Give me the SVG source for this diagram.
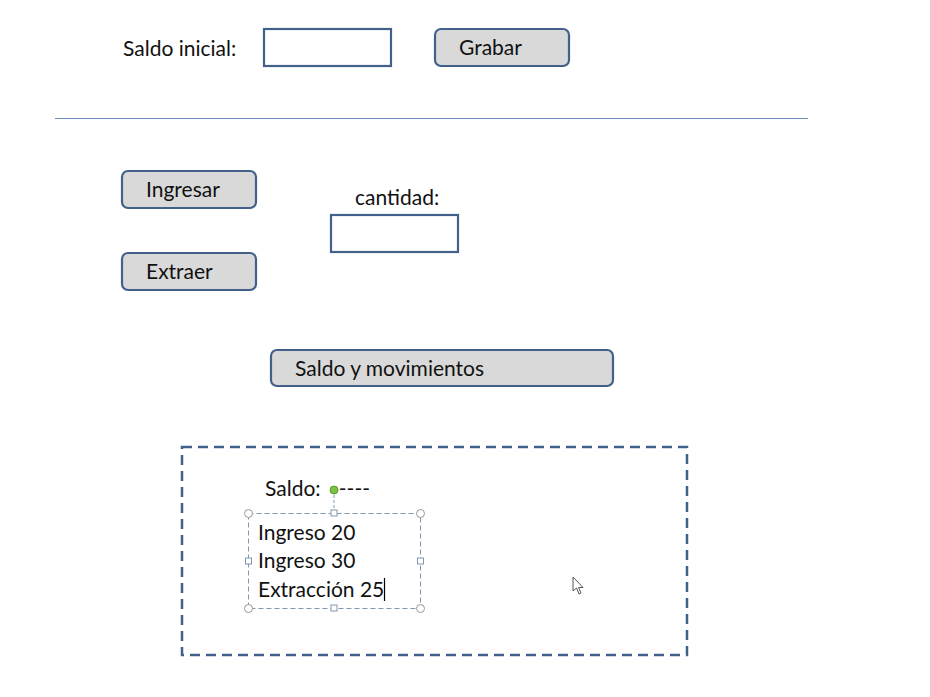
<svg xmlns="http://www.w3.org/2000/svg" width="930" height="697" viewBox="0 0 930 697">
<style>
text{font-family:"Lato","Open Sans",sans-serif;font-size:21px;fill:#111}
.btn{fill:#d9d9d9;stroke:#41618a;stroke-width:2.2}
.inp{fill:#fff;stroke:#41618a;stroke-width:2.2}
.h{fill:#fff;stroke:#999;stroke-width:1}
.hs{fill:#fff;stroke:#7f97b2;stroke-width:1}
</style>
<rect width="930" height="697" fill="#fff"/>
<g id="saldo-inicial">
<text x="123" y="56">Saldo inicial:</text>
<rect class="inp" x="264" y="29" width="127" height="37"/>
</g>
<g id="grabar">
<rect class="btn" x="435" y="29" width="134" height="37" rx="6"/>
<text x="459" y="55">Grabar</text>
</g>
<line x1="55" y1="118.5" x2="808" y2="118.5" stroke="#6d8fbb" stroke-width="1"/>
<g id="ingresar">
<rect class="btn" x="122" y="171" width="134" height="37" rx="6"/>
<text x="146" y="197">Ingresar</text>
</g>
<g id="extraer">
<rect class="btn" x="122" y="253" width="134" height="37" rx="6"/>
<text x="146" y="279">Extraer</text>
</g>
<g id="cantidad">
<text x="355" y="205">cantidad:</text>
<rect class="inp" x="331" y="215" width="127" height="37"/>
</g>
<g id="saldo-movimientos">
<rect class="btn" x="271" y="350" width="342" height="36" rx="6"/>
<text x="295" y="376">Saldo y movimientos</text>
</g>
<g id="panel">
<rect x="182" y="447" width="505" height="208" fill="none" stroke="#41618a" stroke-width="2.5" stroke-dasharray="10,6"/>
<text x="265" y="496">Saldo:</text>
<text x="331" y="496">-----</text>
<line x1="334" y1="490" x2="334" y2="513" stroke="#7f97b2" stroke-width="1" stroke-dasharray="3,2"/>
<rect x="248.5" y="513.5" width="172" height="95" fill="none" stroke="#7f97b2" stroke-width="1" stroke-dasharray="5,3"/>
<circle cx="334" cy="490" r="4" fill="#7cc242" stroke="#5a9a2e" stroke-width="1"/>
<circle class="h" cx="248.5" cy="513.5" r="4"/>
<circle class="h" cx="420.5" cy="513.5" r="4"/>
<circle class="h" cx="248.5" cy="608.5" r="4"/>
<circle class="h" cx="420.5" cy="608.5" r="4"/>
<rect class="hs" x="331" y="510" width="6" height="6"/>
<rect class="hs" x="331" y="605" width="6" height="6"/>
<rect class="hs" x="245.5" y="558" width="6" height="6"/>
<rect class="hs" x="417.5" y="558" width="6" height="6"/>
<text x="258" y="540">Ingreso 20</text>
<text x="258" y="568">Ingreso 30</text>
<text x="258" y="597">Extracción 25</text>
<line x1="384.5" y1="578" x2="384.5" y2="601" stroke="#000" stroke-width="1.2"/>
<path d="M573,577 L573,591 L576.5,588 L579,594 L581,593 L578.5,587.5 L583,587.5 Z" fill="#fff" stroke="#555" stroke-width="1"/>
</g>
</svg>
